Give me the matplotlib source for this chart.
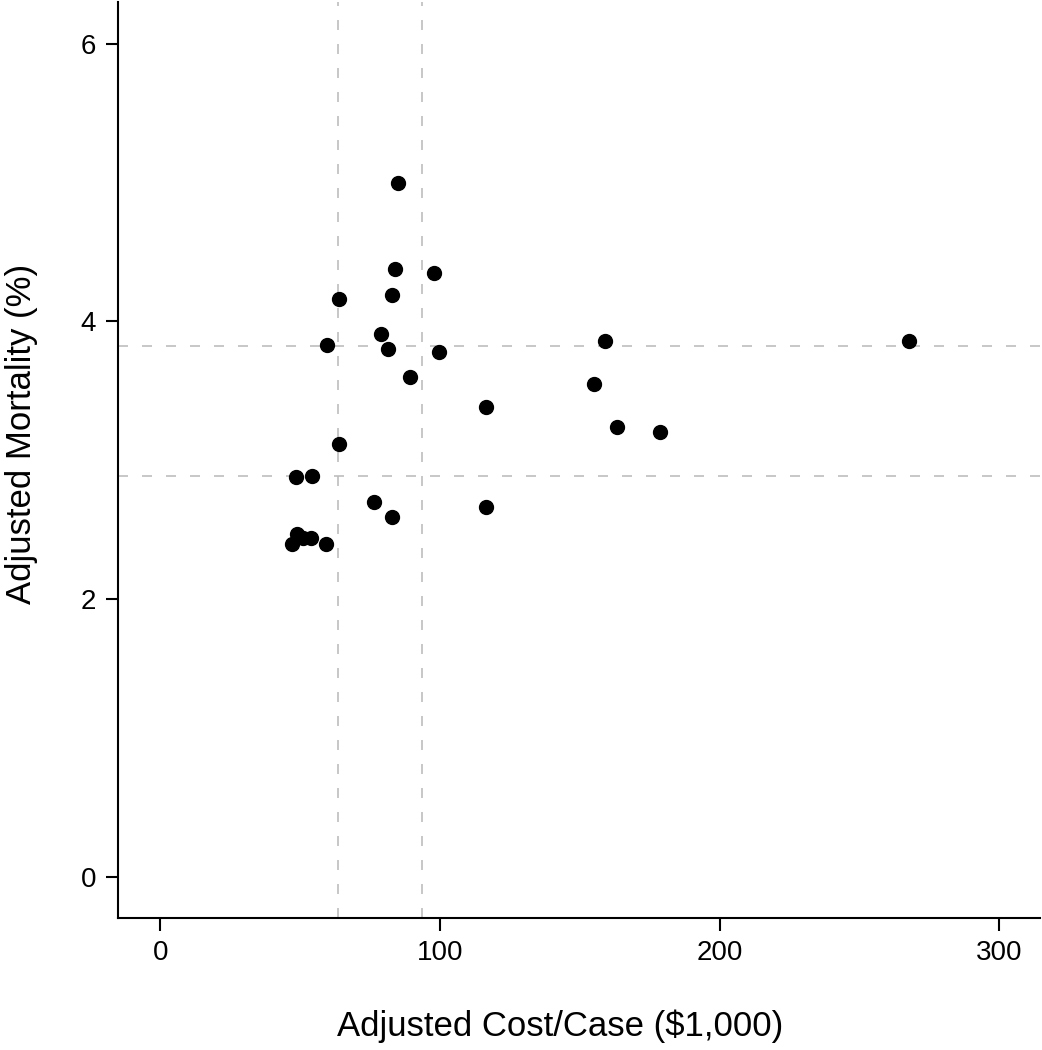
import matplotlib
matplotlib.use("Agg")
import matplotlib.pyplot as plt

# adjusted cost per case ($1,000) and adjusted mortality (%) per hospital
cost = [85.1, 83.8, 97.7, 63.8, 82.8, 78.9, 59.8, 81.5, 99.5, 89.3,
        116.4, 64.0, 48.5, 54.1, 76.3, 82.9, 116.4,
        47.0, 48.8, 51.1, 53.8, 59.1,
        159.1, 155.1, 163.4, 178.7, 267.7]
mortality = [5.00, 4.38, 4.35, 4.16, 4.19, 3.91, 3.83, 3.80, 3.78, 3.60,
             3.38, 3.12, 2.88, 2.89, 2.70, 2.59, 2.66,
             2.40, 2.47, 2.44, 2.44, 2.40,
             3.86, 3.55, 3.24, 3.20, 3.86]

# reference lines (tertile cut points)
cost_cuts = [63.6, 93.5]
mortality_cuts = [3.82, 2.89]

x_ticks = [0, 100, 200, 300]
y_ticks = [0, 2, 4, 6]

plt.rcParams['font.family'] = ['Liberation Sans', 'DejaVu Sans']

fig = plt.figure(figsize=(10.42, 10.5), dpi=100)
ax = fig.add_axes([0.1135, 0.126, 0.8845, 0.872])

for c in cost_cuts:
    ax.axvline(c, color='#bdbdbd', linewidth=1.2, dashes=(6, 8.4), zorder=1)
for m in mortality_cuts:
    ax.axhline(m, color='#bdbdbd', linewidth=1.2, dashes=(6, 8.4), zorder=1)

ax.plot(cost, mortality, 'o', color='black', markersize=10, zorder=3)

ax.set_xlim(-15, 314.5)
ax.set_ylim(-0.295, 6.3)
ax.set_xticks(x_ticks)
ax.set_yticks(y_ticks)

for side in ['top', 'right']:
    ax.spines[side].set_visible(False)
for side in ['left', 'bottom']:
    ax.spines[side].set_linewidth(1.5)

ax.tick_params(axis='both', direction='out', length=9, width=1.5,
               labelsize=20, pad=7)

ax.set_xlabel('Adjusted Cost/Case ($1,000)', fontsize=25)
ax.set_ylabel('Adjusted Mortality (%)', fontsize=25)
ax.xaxis.set_label_coords(0.479, -0.100)
ax.yaxis.set_label_coords(-0.087, 0.528)

fig.savefig('out.png', dpi=100, facecolor='white')
